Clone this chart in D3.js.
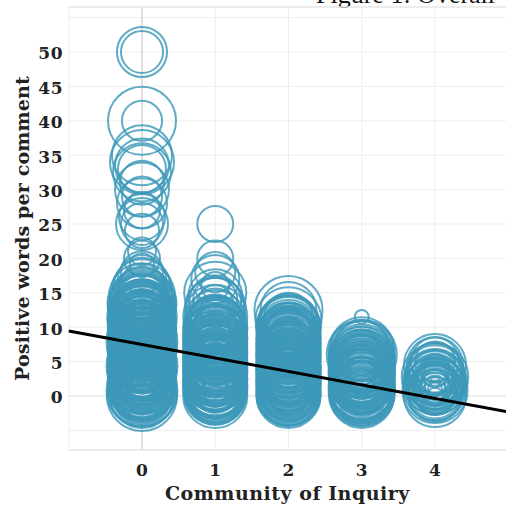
<!DOCTYPE html>
<html>
<head>
<meta charset="utf-8">
<script src="https://cdn.jsdelivr.net/npm/d3@7"></script>
<style>
  html, body { margin: 0; padding: 0; background: #fff; }
  svg { display: block; }
</style>
</head>
<body>
<div id="chart"></div>
<script>
// Community of Inquiry levels on the x axis
const levels = [0, 1, 2, 3, 4];
const yTicks = [0, 5, 10, 15, 20, 25, 30, 35, 40, 45, 50];
const yGrid = [-5, 0, 5, 10, 15, 20, 25, 30, 35, 40, 45, 50, 55];

// Comments per level: [positive words per comment, total words in comment]
const level0 = [
  [50, 142], [50, 100], [40, 262], [40, 91], [35, 204], [34, 232], [33.5, 165], [33, 131],
  [32.5, 191], [31, 110], [30, 165], [29, 91], [28, 142], [27, 73], [26, 120], [25, 153],
  [25, 100], [24, 66], [21, 44], [20, 73], [19, 33], [18, 100], [17, 131], [16, 178],
  [16, 110], [15.5, 204], [15, 153], [14.5, 247], [14, 91],
  [13, 262], [12.5, 204], [12, 165], [12, 110], [11.5, 247], [11, 191], [11, 73], [10.5, 262],
  [10, 218], [10, 142], [10, 44], [9.5, 178], [9, 247], [9, 100], [8.5, 204], [8, 262],
  [8, 153], [8, 66], [7.5, 232], [7, 191], [7, 120], [6.5, 262], [6, 218], [6, 165],
  [6, 33], [5.5, 247], [5, 204], [5, 131], [5, 82], [4.5, 262], [4, 232], [4, 178],
  [4, 110], [3.5, 204], [3, 247], [3, 153], [3, 51], [2.5, 262], [2, 218], [2, 178],
  [2, 120], [1.5, 247], [1, 204], [1, 142], [1, 82], [0.5, 262], [0, 278], [0, 232],
  [0, 191], [0, 153], [0, 110], [0, 66], [0, 33], [11.8, 142], [9.8, 91], [7.3, 38],
  [4.7, 58], [2.7, 91], [1.2, 44], [12.3, 58], [13.5, 232], [8.8, 270], [6.8, 270],
  [3.8, 270], [1.8, 270], [12.8, 150], [10.8, 120], [5.8, 100], [2.2, 60],
  [0.3, 240], [0.8, 200], [1.3, 260], [1.7, 170], [2.3, 250], [2.8, 210], [3.3, 180], [3.7, 255],
  [4.2, 220], [4.8, 160], [5.3, 245], [5.7, 200], [6.3, 230], [6.7, 175], [7.2, 255], [7.7, 210],
  [8.2, 185], [8.7, 240], [9.2, 165], [9.7, 250], [10.2, 190], [10.7, 230], [11.2, 160], [11.7, 210],
  [12.2, 240], [12.7, 180], [13.2, 200], [13.8, 150], [0.2, 125], [1.6, 95], [3.2, 120], [4.3, 140],
  [5.2, 110], [6.4, 130], [7.6, 95], [8.4, 120], [9.3, 140], [10.4, 100], [11.3, 125], [12.6, 95],
  [2.4, 75], [5.6, 70], [8.6, 80], [11.6, 60], [0.7, 285], [4.4, 285], [7.9, 285], [11.4, 275],
  [13.4, 270],
  [0.1, 180], [0.4, 150], [0.9, 230], [1.1, 115], [1.4, 210], [1.9, 140], [2.1, 245], [2.6, 130],
  [2.9, 190], [3.1, 265], [3.4, 100], [3.9, 215], [4.1, 150], [4.6, 250], [4.9, 120], [5.1, 185],
  [5.4, 265], [5.9, 140], [6.1, 250], [6.6, 115], [6.9, 205], [7.1, 150], [7.4, 265], [7.9, 125],
  [8.1, 225], [8.9, 150], [9.1, 200], [9.6, 115], [9.9, 265], [10.1, 160], [10.6, 200], [10.9, 140],
  [11.1, 255], [11.9, 185], [12.1, 120], [12.4, 225], [12.9, 245], [13.1, 130], [13.6, 185], [14.2, 215],
  [0.9, 50], [2.9, 40], [4.9, 45], [6.9, 55], [8.9, 40], [10.9, 50], [3.6, 30], [7.1, 25],
  [9.6, 35], [1.9, 22]
];
const level1 = [
  [25, 73], [20, 73], [18, 91], [17, 131], [16, 44], [15, 218], [14.5, 165], [14, 110],
  [13.5, 73], [13, 191], [12.5, 51], [12, 142], [11.5, 232], [11, 91], [10.5, 165],
  [10, 218], [9.5, 131], [9, 191], [9, 66], [8.5, 232], [8, 165], [8, 100], [7.5, 204],
  [7, 232], [7, 131], [6.5, 178], [6, 218], [6, 82], [5.5, 153], [5, 232], [5, 191],
  [5, 110], [4.5, 204], [4, 232], [4, 142], [4, 51], [3.5, 178], [3, 218], [3, 100],
  [2.5, 232], [2, 191], [2, 131], [1.5, 218], [1, 232], [1, 165], [1, 73], [0.5, 204],
  [0, 232], [0, 178], [0, 120], [0, 58], [0, 23], [2, 33], [6, 27], [8, 38],
  [9.8, 200], [7.8, 225], [3.8, 225], [1.8, 225], [10.2, 100], [6.2, 150],
  [0.3, 210], [0.8, 180], [1.3, 232], [1.7, 150], [2.3, 220], [2.7, 170], [3.3, 232], [3.7, 140],
  [4.3, 210], [4.7, 175], [5.3, 225], [5.7, 130], [6.3, 232], [6.7, 160], [7.3, 215], [7.7, 185],
  [8.3, 140], [8.7, 225], [9.3, 170], [9.7, 232], [10.3, 150], [0.6, 95], [2.6, 85], [4.6, 100],
  [6.6, 90], [8.6, 70], [1.4, 120], [3.4, 110], [5.4, 60], [7.4, 110], [9.4, 80], [12.8, 210],
  [13.8, 150],
  [0.1, 160], [0.4, 225], [0.9, 120], [1.1, 200], [1.6, 232], [1.9, 105], [2.1, 180], [2.4, 232],
  [2.9, 145], [3.1, 200], [3.6, 232], [3.9, 120], [4.1, 185], [4.4, 232], [4.9, 150], [5.1, 205],
  [5.6, 232], [5.9, 115], [6.1, 190], [6.4, 232], [6.9, 140], [7.1, 200], [7.6, 232], [7.9, 125],
  [8.1, 195], [8.4, 232], [8.9, 150], [9.1, 210], [9.6, 120], [9.9, 232], [10.6, 185], [10.9, 215],
  [0.9, 40], [2.9, 50], [4.9, 35], [6.9, 45], [8.9, 50], [3.6, 25], [7.1, 30]
];
const level2 = [
  [12.5, 262], [12.5, 178], [11.5, 131], [11, 247], [10.5, 204],
  [10, 232], [9.5, 178], [9, 218], [9, 131], [8.5, 232], [8, 191], [8, 110], [7.5, 218],
  [7, 232], [7, 153], [6.5, 204], [6, 232], [6, 120], [5.5, 191], [5, 232], [5, 165],
  [5, 73], [4.5, 218], [4, 232], [4, 142], [3.5, 204], [3, 232], [3, 178], [3, 91],
  [2.5, 218], [2, 232], [2, 153], [1.5, 204], [1, 232], [1, 178], [1, 110], [0.5, 218],
  [0, 232], [0, 191], [0, 142], [0, 82], [6, 44], [3, 38], [8, 58], [1, 51],
  [9.8, 225], [7.8, 232], [5.8, 225], [3.8, 232], [1.8, 225], [0.2, 225], [8.8, 160], [4.2, 100],
  [0.3, 232], [0.8, 200], [1.3, 232], [1.7, 170], [2.3, 232], [2.7, 190], [3.3, 232], [3.7, 160],
  [4.3, 232], [4.7, 195], [5.3, 232], [5.7, 150], [6.3, 232], [6.7, 180], [7.3, 232], [7.7, 140],
  [8.3, 225], [8.7, 170], [9.3, 232], [9.7, 150], [10.3, 200], [0.6, 110], [2.6, 100], [4.6, 120],
  [6.6, 100], [8.6, 90], [1.4, 70], [3.4, 60], [5.4, 80], [7.4, 70], [9.4, 110],
  [0.1, 165], [0.4, 232], [0.9, 130], [1.1, 210], [1.6, 232], [1.9, 115], [2.1, 185], [2.4, 232],
  [2.9, 150], [3.1, 205], [3.6, 232], [3.9, 125], [4.1, 190], [4.4, 232], [4.9, 155], [5.1, 210],
  [5.6, 232], [5.9, 120], [6.1, 195], [6.4, 232], [6.9, 145], [7.1, 205], [7.6, 232], [7.9, 130],
  [8.1, 200], [8.4, 232], [8.9, 155], [9.1, 215], [9.6, 125], [9.9, 232], [0.9, 45], [2.9, 55],
  [4.9, 40], [6.9, 50], [8.9, 45], [3.6, 28], [7.1, 32]
];
const level3 = [
  [11.5, 11], [6, 278], [6.2, 247], [6.5, 204], [7, 165], [5.5, 218], [5, 153], [5, 232],
  [4.5, 191], [4, 247], [4, 131], [3.5, 218], [3, 247], [3, 165], [2.5, 204], [2, 232],
  [2, 142], [1.5, 191], [1, 247], [1, 165], [1, 91], [0.5, 218], [0, 232], [0, 191],
  [0, 131], [0, 66], [3, 73], [5, 58], [2, 38], [4.8, 240], [2.8, 240], [0.8, 240], [3.8, 180],
  [0.3, 232], [0.7, 200], [1.3, 247], [1.7, 170], [2.3, 232], [2.7, 190], [3.3, 247], [3.7, 160],
  [4.3, 232], [4.7, 200], [5.3, 247], [5.7, 170], [0.6, 110], [1.6, 120], [2.6, 100], [3.6, 110],
  [4.6, 90], [5.6, 120], [1.2, 60], [4.2, 70], [6.8, 232],
  [0.1, 170], [0.4, 247], [0.9, 135], [1.1, 215], [1.6, 247], [1.9, 120], [2.1, 190], [2.4, 247],
  [2.9, 155], [3.1, 210], [3.6, 247], [3.9, 125], [4.1, 195], [4.4, 247], [4.9, 160], [5.1, 215],
  [5.6, 247], [5.9, 130], [0.9, 45], [2.9, 50], [4.9, 40], [1.6, 30], [3.9, 35]
];
const level4 = [
  [4.5, 218], [4.5, 178], [5, 131], [4, 153], [5, 91], [3.5, 110], [3, 204], [3, 66],
  [2.5, 142], [2, 232], [2, 165], [2, 91], [2, 38], [1.5, 191], [1.5, 23], [1, 218],
  [1, 120], [1, 58], [0.5, 178], [0.5, 33], [0, 218], [0, 153], [0, 82], [0, 15],
  [3, 33], [4, 44], [1, 11], [2, 6], [1.8, 110], [2.3, 190], [1.3, 150], [0.8, 240],
  [2.6, 70], [1.6, 50], [0.4, 100], [3.6, 180], [2.8, 250],
  [1.9, 130], [2.1, 75], [1.1, 95], [0.6, 160], [2.4, 210]
];
const levelData = [level0, level1, level2, level3, level4];

// Least-squares fit of positive words on Community of Inquiry level
const fitIntercept = 7.49;
const fitSlope = -1.96;

const width = 506, height = 508;
const plot = { left: 68.75, right: 508.25, top: 7, bottom: 450 };

const svg = d3.select("#chart").append("svg")
  .attr("width", width).attr("height", height);

const x = d3.scaleLinear().domain([-1, 5]).range([plot.left, plot.right]);
const y = d3.scaleLinear().domain([-7.85, 56.54]).range([plot.bottom, plot.top]);
const r = d3.scaleSqrt().domain([0, 300]).range([0, 36.4]);

// Figure caption, running off the top of the page
svg.append("text")
  .attr("x", 316).attr("y", 3)
  .attr("font-family", "'Liberation Serif', serif")
  .attr("font-size", 26)
  .attr("fill", "#111")
  .text("Figure 1: Overall");

// Grid
const grid = svg.append("g");
grid.selectAll("line.h").data(yGrid).join("line")
  .attr("x1", plot.left).attr("x2", width)
  .attr("y1", d => y(d)).attr("y2", d => y(d))
  .attr("stroke", d => d === 0 ? "#dedede" : "#eeeeee")
  .attr("stroke-width", 1);
grid.selectAll("line.v").data([-1, ...levels]).join("line")
  .attr("x1", d => x(d)).attr("x2", d => x(d))
  .attr("y1", plot.top).attr("y2", plot.bottom)
  .attr("stroke", d => d === 0 ? "#d6d6d6" : "#eeeeee")
  .attr("stroke-width", d => d === 0 ? 1.5 : 1);
grid.selectAll("line.b").data([plot.top, plot.bottom]).join("line")
  .attr("x1", plot.left).attr("x2", width)
  .attr("y1", d => d).attr("y2", d => d)
  .attr("stroke", "#e6e6e6").attr("stroke-width", 1.5);

// Bubbles
const points = levelData.flatMap((arr, i) => arr.map(([pos, words]) => ({ level: levels[i], pos, words })));
points.sort((a, b) => b.words - a.words);
svg.append("g").selectAll("circle").data(points).join("circle")
  .attr("cx", d => x(d.level))
  .attr("cy", d => y(d.pos))
  .attr("r", d => r(d.words))
  .attr("fill", "none")
  .attr("stroke", "#3d98b9")
  .attr("stroke-opacity", 0.82)
  .attr("stroke-width", 2);

// Regression line
const line = d3.line().x(d => x(d)).y(d => y(fitIntercept + fitSlope * d));
svg.append("path")
  .datum([-1, 5])
  .attr("d", line)
  .attr("fill", "none")
  .attr("stroke", "#000")
  .attr("stroke-width", 3);

// Axis labels
const labelFont = "'DejaVu Serif', serif";
svg.append("g").selectAll("text").data(yTicks).join("text")
  .attr("x", 63).attr("y", d => y(d) + 1.5)
  .attr("text-anchor", "end")
  .attr("dominant-baseline", "central")
  .attr("font-family", labelFont).attr("font-weight", "bold").attr("font-size", 17)
  .attr("letter-spacing", 0.5)
  .attr("fill", "#222")
  .text(d => d);

svg.append("g").selectAll("text").data(levels).join("text")
  .attr("x", d => x(d)).attr("y", 476)
  .attr("text-anchor", "middle")
  .attr("font-family", labelFont).attr("font-weight", "bold").attr("font-size", 17)
  .attr("fill", "#222")
  .text(d => d);

svg.append("text")
  .attr("x", (plot.left + width) / 2).attr("y", 500)
  .attr("text-anchor", "middle")
  .attr("font-family", labelFont).attr("font-weight", "bold").attr("font-size", 19)
  .attr("letter-spacing", 0.5)
  .attr("fill", "#222")
  .text("Community of Inquiry");

svg.append("text")
  .attr("transform", `translate(29, ${(plot.top + plot.bottom) / 2}) rotate(-90)`)
  .attr("text-anchor", "middle")
  .attr("font-family", labelFont).attr("font-weight", "bold").attr("font-size", 19)
  .attr("letter-spacing", 0.15)
  .attr("fill", "#222")
  .text("Positive words per comment");
</script>
</body>
</html>
